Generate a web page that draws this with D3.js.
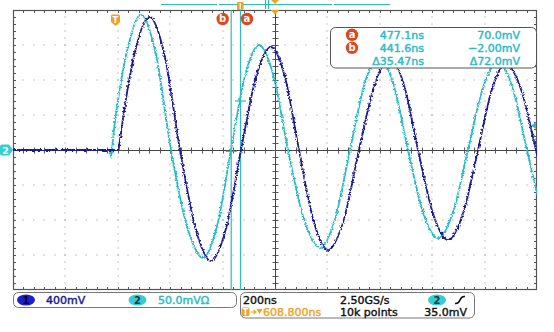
<!DOCTYPE html>
<html>
<head>
<meta charset="utf-8">
<script src="https://cdn.jsdelivr.net/npm/d3@7"></script>
<style>
  html, body { margin: 0; padding: 0; background: #fff; }
  svg { display: block; font-family: "DejaVu Sans", sans-serif; }
</style>
</head>
<body>
<svg id="scope" width="554" height="332"></svg>
<script>
// Channel 1 trace: time relative to trigger (ns) and level (mV), 400 mV/div
const ch1TimeNs = [-391.2, 11.5, 15.3, 36.3, 70.6, 129.8, 188.0, 246.2, 305.4, 364.5, 421.8, 479.0,
  536.3, 593.5, 647.0, 700.4, 755.7, 811.1, 870.2, 929.4, 988.6, 1047.7, 1101.2, 1154.6,
  1211.9, 1269.1, 1326.4, 1383.6, 1437.0, 1490.5, 1547.7, 1605.0, 1662.2, 1719.5];
const ch1mV = [0, 0, 77, 514, 1074, 1520, 1074, 0, -897, -1269, -897, 0,
  832, 1177, 832, 0, -808, -1143, -808, 0, 743, 1051, 743, 0,
  -727, -1029, -727, 0, 695, 983, 695, 0, -686, -971];

// Channel 2 trace: time relative to trigger (ns) and level (mV), 50 mV/div
const ch2TimeNs = [-391.2, -21.0, -17.0, -13.4, -9.6, 6.9, 41.0, 97.3, 154.6, 211.9, 272.9, 334.0,
  387.4, 440.9, 494.3, 547.7, 603.1, 658.4, 719.5, 780.6, 837.8, 895.1, 950.4, 1005.7,
  1061.1, 1116.4, 1173.7, 1230.9, 1288.2, 1345.4, 1402.7, 1459.9, 1515.3, 1570.6, 1627.9, 1685.1];
const ch2mV = [0, 0, -10, 0, 15, 64, 136, 193, 136, 0, -109, -154,
  -109, 0, 106, 150, 106, 0, -99, -140, -99, 0, 94, 133,
  94, 0, -89, -126, -89, 0, 89, 126, 89, 0, -86, -121];

// Acquisition / display settings
const timePerDivNs = 200;
const horizontalPosNs = 608.8;
const ch1MvPerDiv = 400;
const ch2MvPerDiv = 50;
const triggerLevelMv = 35;

// Waveform cursors a / b (on channel 2)
const cursorNames = ["a", "b"];
const cursorTimesNs = [477.1, 441.6];
const cursorLevelsMv = [70.0, -2.00];
const readoutTimes = ["477.1ns", "441.6ns", "\u039435.47ns"];
const readoutLevels = ["70.0mV", "\u22122.00mV", "\u039472.0mV"];

// Status bar texts
const ch1Label = "400mV";
const ch2Label = "50.0mV\u03a9";
const timebaseLabel = "200ns";
const sampleRateLabel = "2.50GS/s";
const recordLabel = "10k points";
const positionLabel = "608.800ns";
const trigLevelLabel = "35.0mV";

const COL = {
  ch1: "#1b1b92",
  ch2: "#2cbcc4",
  ch1Pill: "#1e1ecc",
  ch2Pill: "#33cdd6",
  orange: "#f0a224",
  badge: "#e2451c",
  frame: "#555",
  grid: "#8a8a8a"
};

const svg = d3.select("#scope");
const L = 13, R = 537, T = 10, B = 290;
const nx = 10, ny = 8;
const cx = (L + R) / 2, cy = (T + B) / 2;

const x = d3.scaleLinear()
  .domain([horizontalPosNs - nx / 2 * timePerDivNs, horizontalPosNs + nx / 2 * timePerDivNs])
  .range([L, R]);
const y1 = d3.scaleLinear().domain([-ny / 2 * ch1MvPerDiv, ny / 2 * ch1MvPerDiv]).range([B, T]);
const y2 = d3.scaleLinear().domain([-ny / 2 * ch2MvPerDiv, ny / 2 * ch2MvPerDiv]).range([B, T]);

const dx = (R - L) / nx, dy = (B - T) / ny;

// ---- graticule ----
const defs = svg.append("defs");
defs.append("clipPath").attr("id", "plotClip")
  .append("rect").attr("x", L).attr("y", T).attr("width", R - L).attr("height", B - T);

// acquisition noise on the traces
const noise = defs.append("filter").attr("id", "jitter")
  .attr("x", "-5%").attr("y", "-5%").attr("width", "110%").attr("height", "110%");
noise.append("feTurbulence").attr("type", "fractalNoise").attr("baseFrequency", "0.55")
  .attr("numOctaves", 2).attr("seed", 3).attr("result", "n");
noise.append("feDisplacementMap").attr("in", "SourceGraphic").attr("in2", "n")
  .attr("scale", 3.6).attr("xChannelSelector", "R").attr("yChannelSelector", "G");

const grat = svg.append("g");

// dotted grid lines: one dot per minor division
const gridDots = [];
d3.range(1, nx).filter(i => i !== nx / 2).forEach(i => {
  d3.range(1, ny * 5).forEach(j => gridDots.push([L + i * dx, T + j * dy / 5]));
});
d3.range(1, ny).filter(j => j !== ny / 2).forEach(j => {
  d3.range(1, nx * 5).forEach(i => gridDots.push([L + i * dx / 5, T + j * dy]));
});
grat.selectAll("rect.dot").data(gridDots).join("rect").attr("class", "dot")
  .attr("x", d => Math.round(d[0]) - 0.5).attr("y", d => Math.round(d[1]) - 0.5)
  .attr("width", 1).attr("height", 1).attr("fill", COL.grid);

// centre cross
grat.append("line").attr("x1", L).attr("x2", R).attr("y1", cy + 0.5).attr("y2", cy + 0.5)
  .attr("stroke", "#444").attr("stroke-width", 1);
grat.append("line").attr("x1", cx + 0.5).attr("x2", cx + 0.5).attr("y1", T).attr("y2", B)
  .attr("stroke", "#444").attr("stroke-width", 1);

// minor ticks on frame and centre cross
const hTicks = d3.range(1, nx * 5).map(i => L + i * dx / 5);
const vTicks = d3.range(1, ny * 5).map(j => T + j * dy / 5);
const tickPath = d3.path();
hTicks.forEach(px => {
  const p = Math.round(px) + 0.5;
  tickPath.moveTo(p, T); tickPath.lineTo(p, T + 3);
  tickPath.moveTo(p, B); tickPath.lineTo(p, B - 3);
  tickPath.moveTo(p, cy - 2.5); tickPath.lineTo(p, cy + 3.5);
});
vTicks.forEach(py => {
  const p = Math.round(py) + 0.5;
  tickPath.moveTo(L, p); tickPath.lineTo(L + 3, p);
  tickPath.moveTo(R, p); tickPath.lineTo(R - 3, p);
  tickPath.moveTo(cx - 2.5, p); tickPath.lineTo(cx + 3.5, p);
});
grat.append("path").attr("d", tickPath.toString()).attr("stroke", "#555").attr("stroke-width", 1).attr("fill", "none");

grat.append("rect").attr("x", L + 0.5).attr("y", T + 0.5).attr("width", R - L - 1).attr("height", B - T - 1)
  .attr("fill", "none").attr("stroke", COL.frame).attr("stroke-width", 1.2);

// ---- cursors (vertical bars) ----
const curG = svg.append("g");
cursorTimesNs.forEach(t => {
  curG.append("line").attr("x1", x(t)).attr("x2", x(t)).attr("y1", T).attr("y2", B)
    .attr("stroke", COL.ch2).attr("stroke-width", 1.2);
});

// ---- traces ----
const traces = svg.append("g").attr("clip-path", "url(#plotClip)")
  .append("g").attr("filter", "url(#jitter)");
const line2 = d3.line().x(d => x(d[0])).y(d => y2(d[1])).curve(d3.curveMonotoneX);
const line1 = d3.line().x(d => x(d[0])).y(d => y1(d[1])).curve(d3.curveMonotoneX);
traces.append("path").datum(d3.zip(ch2TimeNs, ch2mV)).attr("d", line2)
  .attr("fill", "none").attr("stroke", COL.ch2).attr("stroke-width", 1.8);
traces.append("path").datum(d3.zip(ch1TimeNs, ch1mV)).attr("d", line1)
  .attr("fill", "none").attr("stroke", COL.ch1).attr("stroke-width", 1.8);

// cursor crosshairs where they meet channel 2
cursorTimesNs.forEach((t, i) => {
  const px = x(t), py = y2(cursorLevelsMv[i]);
  curG.append("line").attr("x1", px - 5.5).attr("x2", px + 5.5).attr("y1", py).attr("y2", py)
    .attr("stroke", COL.ch2).attr("stroke-width", 1.2);
});

// ---- markers ----
const mk = svg.append("g");
// trigger position marker
const tx = x(0);
mk.append("path")
  .attr("d", `M${tx - 4.5},16 Q${tx - 4.5},14.5 ${tx - 3},14.5 H${tx + 3} Q${tx + 4.5},14.5 ${tx + 4.5},16 V22 L${tx},26 L${tx - 4.5},22 Z`)
  .attr("fill", COL.orange);
mk.append("text").attr("x", tx).attr("y", 22.5).attr("text-anchor", "middle")
  .attr("font-size", 8.5).attr("font-weight", "bold").attr("fill", "#fff").text("T");

// expansion point marker at top of graticule
mk.append("path").attr("d", `M${cx - 4},${T} L${cx + 4},${T} L${cx},${T + 5} Z`).attr("fill", COL.orange);

// cursor badges
const badge = (g, bx, by, letter) => {
  g.append("circle").attr("cx", bx).attr("cy", by).attr("r", 6.2).attr("fill", COL.badge);
  g.append("text").attr("x", bx).attr("y", by + 3.4).attr("text-anchor", "middle")
    .attr("font-size", 10).attr("font-weight", "bold").attr("fill", "#fff").text(letter);
};
cursorTimesNs.forEach((t, i) => {
  const off = i === 0 ? 6.5 : -8.5;
  badge(mk, x(t) + off, 19, cursorNames[i]);
});

// record view bar along the top edge
const recordBar = svg.append("g");
[[161, 217], [219, 332], [334, 390]].forEach(s => {
  recordBar.append("line").attr("x1", s[0]).attr("x2", s[1]).attr("y1", 4.5).attr("y2", 4.5)
    .attr("stroke", COL.ch2).attr("stroke-width", 1.2);
});
recordBar.append("rect").attr("x", 237).attr("y", 2).attr("width", 6.5).attr("height", 8).attr("rx", 1).attr("fill", COL.orange);
recordBar.append("line").attr("x1", 240.25).attr("x2", 240.25).attr("y1", 3).attr("y2", 9).attr("stroke", "#fff").attr("stroke-width", 1.2);
[265.5, 268.5].forEach(px => recordBar.append("line").attr("x1", px).attr("x2", px).attr("y1", 0).attr("y2", 9)
  .attr("stroke", COL.ch2).attr("stroke-width", 1.2));
recordBar.append("path").attr("d", `M${cx - 4},0 L${cx + 4},0 L${cx},4 Z`).attr("fill", COL.orange);

// channel 2 ground reference on the left edge
const gy = y2(0);
mk.append("path")
  .attr("d", `M2,${gy - 5.5} H9 L13,${gy} L9,${gy + 5.5} H2 Q0,${gy + 5.5} 0,${gy + 3.5} V${gy - 3.5} Q0,${gy - 5.5} 2,${gy - 5.5} Z`)
  .attr("fill", COL.ch2Pill);
mk.append("text").attr("x", 5.5).attr("y", gy + 3.5).attr("text-anchor", "middle")
  .attr("font-size", 9.5).attr("font-weight", "bold").attr("fill", "#fff").text("2");

// trigger level on the right edge
const ty = y2(triggerLevelMv);
mk.append("path").attr("d", `M${R - 6},${ty} L${R - 1},${ty - 3.5} L${R - 1},${ty + 3.5} Z`).attr("fill", COL.ch2);

// ---- cursor readout ----
const ro = svg.append("g");
ro.append("rect").attr("x", 330.5).attr("y", 27.5).attr("width", 206).attr("height", 40.5).attr("rx", 5)
  .attr("fill", "#fff").attr("stroke", "#555").attr("stroke-width", 1);
const rowY = [38.5, 51.5, 64.8];
cursorNames.forEach((n, i) => badge(ro, 352, rowY[i] - 3.7, n));
readoutTimes.forEach((s, i) => ro.append("text").attr("x", 424).attr("y", rowY[i]).attr("text-anchor", "end")
  .attr("font-size", 11).attr("fill", COL.ch2).attr("stroke", COL.ch2).attr("stroke-width", 0.45).text(s));
readoutLevels.forEach((s, i) => ro.append("text").attr("x", 520).attr("y", rowY[i]).attr("text-anchor", "end")
  .attr("font-size", 11).attr("fill", COL.ch2).attr("stroke", COL.ch2).attr("stroke-width", 0.45).text(s));

// ---- status bar ----
const sb = svg.append("g").attr("font-size", 11);
sb.append("rect").attr("x", 13.5).attr("y", 292.5).attr("width", 223).attr("height", 15).attr("rx", 5)
  .attr("fill", "none").attr("stroke", "#777");
sb.append("ellipse").attr("cx", 26).attr("cy", 300).attr("rx", 9).attr("ry", 5.5).attr("fill", COL.ch1Pill);
sb.append("text").attr("x", 26).attr("y", 303.5).attr("text-anchor", "middle").attr("font-size", 10)
  .attr("font-weight", "bold").attr("fill", "#000040").text("1");
sb.append("text").attr("x", 46).attr("y", 304).attr("fill", COL.ch1).attr("stroke", COL.ch1).attr("stroke-width", 0.45).text(ch1Label);
sb.append("ellipse").attr("cx", 137.5).attr("cy", 300).attr("rx", 9).attr("ry", 5.5).attr("fill", COL.ch2Pill);
sb.append("text").attr("x", 137.5).attr("y", 303.5).attr("text-anchor", "middle").attr("font-size", 10)
  .attr("font-weight", "bold").attr("fill", "#063c40").text("2");
sb.append("text").attr("x", 158).attr("y", 304).attr("fill", COL.ch2).attr("stroke", COL.ch2).attr("stroke-width", 0.45).text(ch2Label);

sb.append("rect").attr("x", 240.5).attr("y", 292.5).attr("width", 234).attr("height", 25.5).attr("rx", 5)
  .attr("fill", "none").attr("stroke", "#777");
const plain = (px, py, s, anchor) => sb.append("text").attr("x", px).attr("y", py)
  .attr("text-anchor", anchor || "start").attr("fill", "#111").attr("stroke", "#111").attr("stroke-width", 0.4).text(s);
plain(243, 304, timebaseLabel);
plain(340, 304, sampleRateLabel);
sb.append("ellipse").attr("cx", 437).attr("cy", 300).attr("rx", 9).attr("ry", 5.5).attr("fill", COL.ch2Pill);
sb.append("text").attr("x", 437).attr("y", 303.5).attr("text-anchor", "middle").attr("font-size", 10)
  .attr("font-weight", "bold").attr("fill", "#063c40").text("2");
sb.append("path").attr("d", "M455,303.5 Q458.5,304 460,300 Q461.5,296 465,296.5")
  .attr("fill", "none").attr("stroke", "#111").attr("stroke-width", 1.6);

// horizontal position row
sb.append("rect").attr("x", 241.5).attr("y", 307.5).attr("width", 8).attr("height", 8.5).attr("rx", 1.5).attr("fill", COL.orange);
sb.append("text").attr("x", 245.5).attr("y", 314.5).attr("text-anchor", "middle").attr("font-size", 8)
  .attr("font-weight", "bold").attr("fill", "#fff").text("T");
sb.append("path").attr("d", "M250.5,312 H255.5 M253.5,310 L256,312 L253.5,314").attr("fill", "none")
  .attr("stroke", COL.orange).attr("stroke-width", 1.2);
sb.append("path").attr("d", "M256.5,309 H262.5 L259.5,314 Z").attr("fill", COL.orange);
sb.append("text").attr("x", 263).attr("y", 315.5).attr("fill", COL.orange).attr("stroke", COL.orange).attr("stroke-width", 0.4).text(positionLabel);
plain(340, 315.5, recordLabel);
plain(467, 315.5, trigLevelLabel, "end");
</script>
</body>
</html>
